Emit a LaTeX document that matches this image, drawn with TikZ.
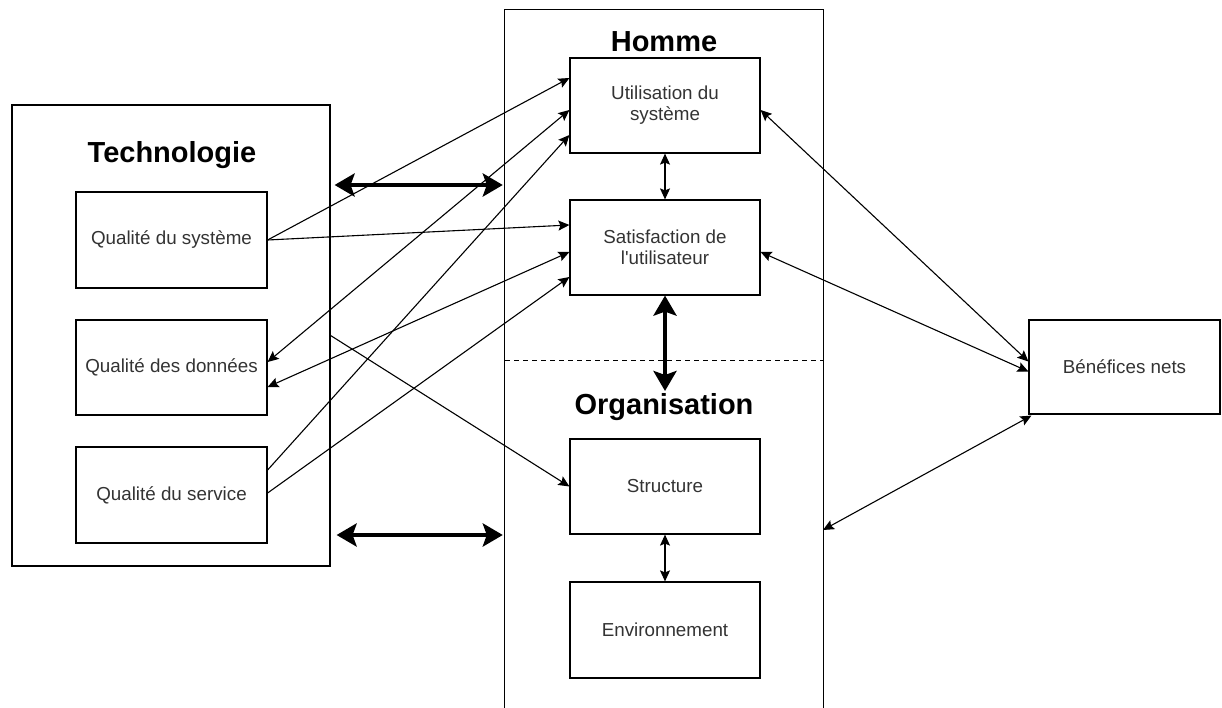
\documentclass[tikz,border=0pt]{standalone}
\usepackage{fontspec}
\setmainfont{Liberation Sans}
\usetikzlibrary{arrows.meta,calc}
\definecolor{txtgray}{HTML}{333333}
\tikzset{
  box/.style={draw, line width=1.2pt, rectangle, minimum width=191pt, minimum height=96pt,
    align=center, text=txtgray, font=\fontsize{18.8}{21}\selectfont, inner sep=0pt},
  frame/.style={draw, line width=1.2pt, rectangle, inner sep=0pt},
  title/.style={font=\fontsize{29}{32}\selectfont\bfseries, text=black, inner sep=0pt},
  conn/.style={line width=1.1pt, -{Stealth[length=11pt,width=10pt,inset=2pt]}},
  bconn/.style={line width=1.1pt, {Stealth[length=11pt,width=10pt,inset=2pt]}-{Stealth[length=11pt,width=10pt,inset=2pt]}},
  thickconn/.style={line width=4.5pt, {Stealth[length=20pt,width=23pt,inset=4pt]}-{Stealth[length=20pt,width=23pt,inset=4pt]}},
}
\begin{document}
\begin{tikzpicture}[x=1pt,y=-1pt]
\useasboundingbox (0,0) rectangle (1222,708);
% Technologie frame
\node[frame, minimum width=318pt, minimum height=461pt] (tech) at (171,335.5) {};
\node[title] (techt) at (172,155) {Technologie};
\node[box] (sys) at (171.5,240) {Qualité du système};
\node[box, minimum height=95pt] (data) at (171.5,367.5) {Qualité des données};
\node[box] (serv) at (171.5,495) {Qualité du service};
% central column
\node[minimum width=318pt, minimum height=704pt, inner sep=0pt] (col) at (664,362) {};
\draw[line width=1.2pt] (col.south west) -- (col.north west) -- (col.north east) -- (col.south east);
\coordinate (dl) at (505,360);
\coordinate (dr) at (823,360);
\draw[line width=1pt, dash pattern=on 5pt off 4pt] (dl) -- (dr);
\node[title] (homme) at (664,42) {Homme};
\node[title] (orga) at (664,407) {Organisation};
\node[box, minimum width=190pt, minimum height=95pt] (util) at (665,105.5) {Utilisation du\\système};
\node[box, minimum width=190pt, minimum height=95pt] (satis) at (665,247.5) {Satisfaction de\\l\textquotesingle utilisateur};
\node[box, minimum width=190pt, minimum height=95pt] (struct) at (665,486.5) {Structure};
\node[box, minimum width=190pt, minimum height=96pt] (env) at (665,630) {Environnement};
% Benefices
\node[box, minimum height=94pt] (benef) at (1124.5,367) {Bénéfices nets};
% connectors from technology
\draw[conn] (sys.east) -- ([yshift=27.5pt]util.west);
\draw[conn] (sys.east) -- ([yshift=22.5pt]satis.west);
\draw[bconn] ([yshift=5.5pt]data.east) -- ([yshift=-4.5pt]util.west);
\draw[conn] ([yshift=25pt]serv.east) -- ([yshift=-29.5pt]util.west);
\draw[bconn] ([yshift=-19.5pt]data.east) -- ([yshift=-4.5pt]satis.west);
\draw[conn] ([yshift=2pt]serv.east) -- ([yshift=-29.5pt]satis.west);
\draw[conn] (tech.east) -- (struct.west);
% thick arrows
\draw[thickconn, shorten <=4pt, shorten >=2pt] (tech.east |- 0,185) -- (col.west |- 0,185);
\draw[thickconn, shorten <=6pt, shorten >=2pt] (tech.east |- 0,535) -- (col.west |- 0,535);
\coordinate (vend) at (665,391);
\draw[thickconn] (satis.south) -- (vend);
% vertical thin
\draw[bconn] (util.south) -- (satis.north);
\draw[bconn] (struct.south) -- (env.north);
% to benefices
\draw[bconn] ([yshift=-4.5pt]util.east) -- ([yshift=5.5pt]benef.west);
\draw[bconn] ([yshift=-4.5pt]satis.east) -- ([yshift=-4.5pt]benef.west);
\coordinate (colr) at (823,530);
\draw[bconn] ([xshift=3pt,yshift=-1pt]benef.south west) -- (colr);
\end{tikzpicture}
\end{document}
